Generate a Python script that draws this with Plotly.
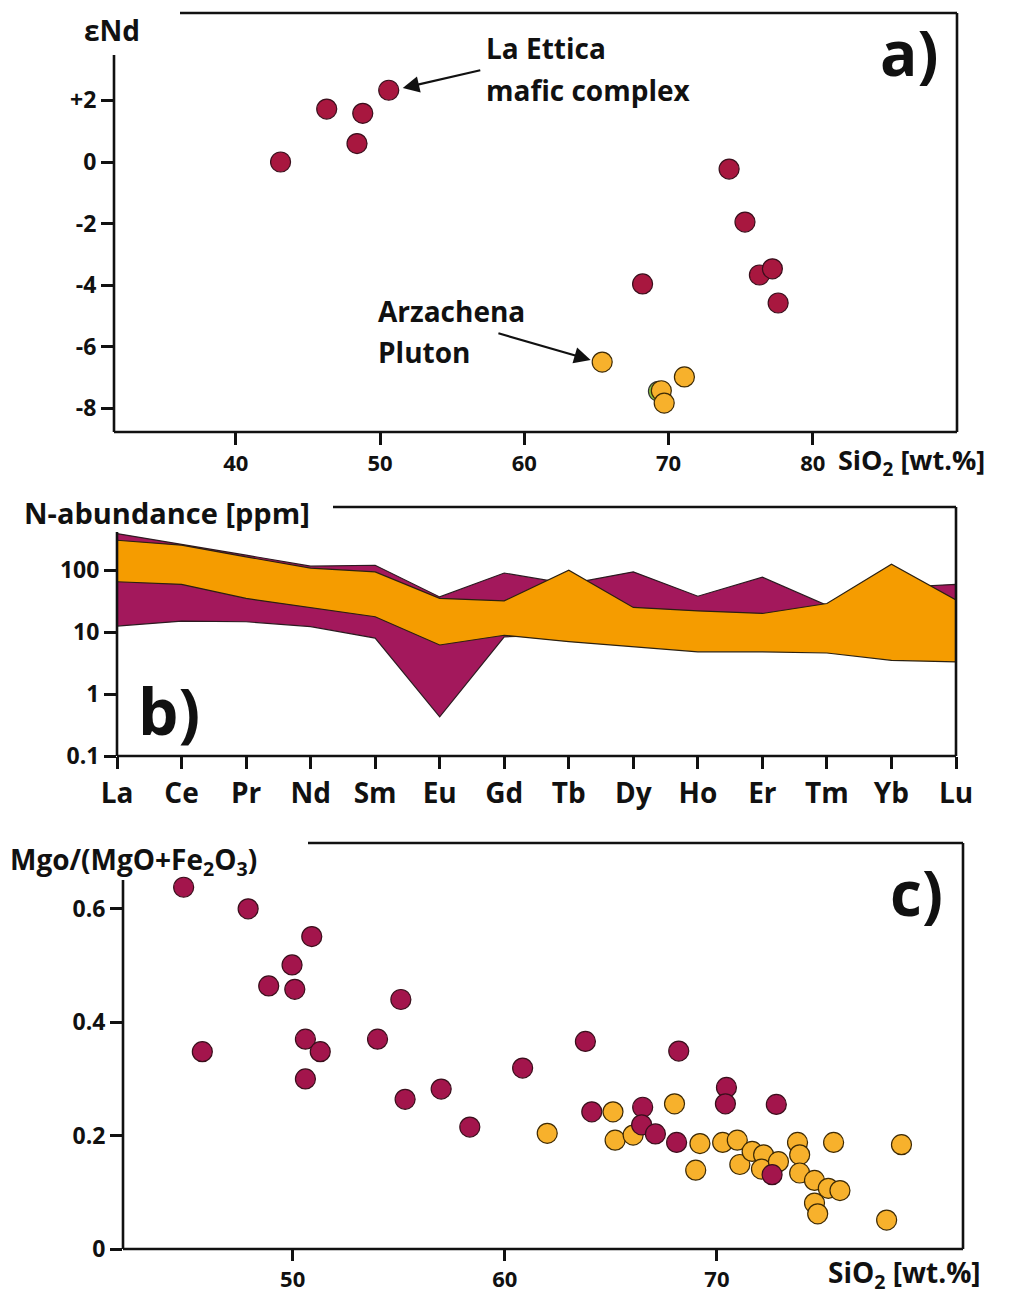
import plotly.graph_objects as go

# ---------------- data ----------------
# Panel a: eNd vs SiO2
a_mafic_sio2 = [43.1, 46.3, 48.8, 48.4, 50.6, 74.2, 75.3, 68.2, 76.3, 77.2, 77.6]
a_mafic_end = [0.0, 1.72, 1.58, 0.6, 2.33, -0.23, -1.95, -3.96, -3.67, -3.47, -4.58]
a_green_sio2 = [69.3]
a_green_end = [-7.45]
a_arz_sio2 = [65.4, 71.1, 69.5, 69.7]
a_arz_end = [-6.5, -6.98, -7.43, -7.83]

# Panel b: REE abundance envelopes (ppm)
ree = ["La", "Ce", "Pr", "Nd", "Sm", "Eu", "Gd", "Tb", "Dy", "Ho", "Er", "Tm", "Yb", "Lu"]
mafic_high = [390, 263, 175, 116, 120, 37, 90, 60, 94, 38, 77, 27, 52, 59]
mafic_low = [12.5, 15, 14.7, 12.3, 8, 0.43, 8.4, 9, 8, 7, 7, 7, 6, 6]
arz_high = [304, 253, 164, 108, 94, 35, 32, 100, 25, 22, 20, 29, 125, 33]
arz_low = [65, 59, 35, 25, 17.7, 6.2, 8.9, 7, 5.8, 4.8, 4.8, 4.6, 3.5, 3.3]

# Panel c: MgO/(MgO+Fe2O3) vs SiO2
c_mafic_sio2 = [44.86, 47.9, 50.9, 49.97, 48.87, 50.1, 45.74, 50.6, 51.3, 50.6, 55.1, 54.0,
                55.3, 57.0, 58.35, 60.84, 63.8, 68.2, 64.1, 66.5, 66.45, 67.1, 68.1, 70.45,
                70.4, 72.8, 72.6]
c_mafic_ratio = [0.638, 0.600, 0.551, 0.501, 0.464, 0.458, 0.348, 0.370, 0.348, 0.300, 0.440,
                 0.370, 0.264, 0.282, 0.215, 0.319, 0.366, 0.349, 0.242, 0.250, 0.219, 0.203,
                 0.188, 0.285, 0.256, 0.255, 0.131]
c_arz_sio2 = [62.0, 65.1, 65.2, 66.05, 68.0, 69.0, 69.2, 70.27, 70.96, 71.08, 71.66, 72.2,
              72.1, 72.9, 73.8, 73.9, 73.9, 74.6, 75.25, 75.8, 74.6, 74.75, 75.5, 78.0, 78.7]
c_arz_ratio = [0.204, 0.242, 0.192, 0.201, 0.256, 0.139, 0.186, 0.188, 0.192, 0.149, 0.172,
               0.166, 0.141, 0.154, 0.188, 0.166, 0.134, 0.121, 0.107, 0.103, 0.081, 0.062,
               0.188, 0.051, 0.184]
mafic_draw_order_last = [26]  # the purple point drawn above the orange cluster

# tick definitions
a_xticks = [40, 50, 60, 70, 80]
a_yticks = [-8, -6, -4, -2, 0, 2]
a_yticktext = ["-8", "-6", "-4", "-2", "0", "+2"]
b_yticks = [0.1, 1, 10, 100]
b_yticktext = ["0.1", "1", "10", "100"]
c_xticks = [50, 60, 70]
c_yticks = [0, 0.2, 0.4, 0.6]
c_yticktext = ["0", "0.2", "0.4", "0.6"]

# ---------------- style ----------------
W, H = 1016, 1296
FONT = "Open Sans"
BLACK = "#111111"
PURPLE_A = "#a8173f"
PURPLE_C = "#a3154c"
ORANGE_PT = "#f7b12c"
GREEN_PT = "#8cc63f"
BAND_PURPLE = "#a3185c"
BAND_ORANGE = "#f59c00"
LW = 2.6


def px(x):
    return x / W


def py(y):
    return 1 - y / H


fig = go.Figure()

# ---------------- panel a ----------------
fig.add_trace(go.Scatter(x=a_green_sio2, y=a_green_end, mode="markers",
                         marker=dict(size=20, color=GREEN_PT, line=dict(color="#333", width=1.2)),
                         xaxis="x", yaxis="y", showlegend=False))
fig.add_trace(go.Scatter(x=a_mafic_sio2, y=a_mafic_end, mode="markers",
                         marker=dict(size=20, color=PURPLE_A, line=dict(color="#3a0f1c", width=1.2)),
                         xaxis="x", yaxis="y", showlegend=False))
fig.add_trace(go.Scatter(x=a_arz_sio2, y=a_arz_end, mode="markers",
                         marker=dict(size=20, color=ORANGE_PT, line=dict(color="#3d2a05", width=1.2)),
                         xaxis="x", yaxis="y", showlegend=False))

# ---------------- panel b ----------------
n = list(range(len(ree)))
fig.add_trace(go.Scatter(x=n + n[::-1], y=mafic_high + mafic_low[::-1], mode="lines",
                         fill="toself", fillcolor=BAND_PURPLE,
                         line=dict(color="#2b1a20", width=1.2),
                         xaxis="x2", yaxis="y2", showlegend=False))
fig.add_trace(go.Scatter(x=n + n[::-1], y=arz_high + arz_low[::-1], mode="lines",
                         fill="toself", fillcolor=BAND_ORANGE,
                         line=dict(color="#2b2010", width=1.2),
                         xaxis="x2", yaxis="y2", showlegend=False))

# ---------------- panel c ----------------
first_x = [v for i, v in enumerate(c_mafic_sio2) if i not in mafic_draw_order_last]
first_y = [v for i, v in enumerate(c_mafic_ratio) if i not in mafic_draw_order_last]
last_x = [c_mafic_sio2[i] for i in mafic_draw_order_last]
last_y = [c_mafic_ratio[i] for i in mafic_draw_order_last]
fig.add_trace(go.Scatter(x=c_arz_sio2, y=c_arz_ratio, mode="markers",
                         marker=dict(size=20, color=ORANGE_PT, line=dict(color="#3d2a05", width=1.2)),
                         xaxis="x3", yaxis="y3", showlegend=False))
fig.add_trace(go.Scatter(x=first_x, y=first_y, mode="markers",
                         marker=dict(size=20, color=PURPLE_C, line=dict(color="#3a0f1c", width=1.2)),
                         xaxis="x3", yaxis="y3", showlegend=False))
fig.add_trace(go.Scatter(x=last_x, y=last_y, mode="markers",
                         marker=dict(size=20, color=PURPLE_C, line=dict(color="#3a0f1c", width=1.2)),
                         xaxis="x3", yaxis="y3", showlegend=False))

tick_common = dict(showgrid=False, zeroline=False, showline=False, ticks="outside",
                   tickwidth=LW, tickcolor=BLACK, automargin=False)

fig.update_layout(
    width=W, height=H, margin=dict(l=0, r=0, t=0, b=0),
    paper_bgcolor="white", plot_bgcolor="white",
    font=dict(family=FONT, color=BLACK),
    xaxis=dict(domain=[px(114), px(957)], range=[31.55, 90], anchor="y", ticklen=12,
               tickvals=a_xticks, tickfont=dict(size=22, family=FONT, weight="bold"), **tick_common),
    yaxis=dict(domain=[py(432), py(13)], range=[-8.77, 4.84], anchor="x", ticklen=12,
               tickvals=a_yticks, ticktext=a_yticktext,
               tickfont=dict(size=23, family=FONT, weight="bold"), **tick_common),
    xaxis2=dict(domain=[px(117), px(956)], range=[0, 13], anchor="y2", ticklen=12,
                tickvals=n, ticktext=ree,
                tickfont=dict(size=28, family=FONT, weight="bold"), **tick_common),
    yaxis2=dict(domain=[py(756), py(507)], type="log", range=[-1, 3.02], anchor="x2", ticklen=12,
                tickvals=b_yticks, ticktext=b_yticktext,
                tickfont=dict(size=23, family=FONT, weight="bold"), **tick_common),
    xaxis3=dict(domain=[px(123), px(963)], range=[42, 81.6], anchor="y3", ticklen=11,
                tickvals=c_xticks, tickfont=dict(size=22, family=FONT, weight="bold"), **tick_common),
    yaxis3=dict(domain=[py(1249), py(843)], range=[0, 0.716], anchor="x3", ticklen=12,
                tickvals=c_yticks, ticktext=c_yticktext,
                tickfont=dict(size=23, family=FONT, weight="bold"), **tick_common),
)

# ---------------- frames (open at top-left) ----------------
def frame(xr, yr, left_top, top_start):
    line = dict(color=BLACK, width=LW)
    xd, yd = xr + " domain", yr + " domain"
    return [
        dict(type="line", xref=xd, yref=yd, x0=0, x1=0, y0=0, y1=left_top, line=line),
        dict(type="line", xref=xd, yref=yd, x0=0, x1=1, y0=0, y1=0, line=line),
        dict(type="line", xref=xd, yref=yd, x0=1, x1=1, y0=0, y1=1, line=line),
        dict(type="line", xref=xd, yref=yd, x0=top_start, x1=1, y0=1, y1=1, line=line),
    ]

shapes = []
shapes += frame("x", "y", (432 - 55) / (432 - 13), (180 - 114) / (957 - 114))
shapes += frame("x2", "y2", (756 - 532) / (756 - 507), (333 - 117) / (956 - 117))
shapes += frame("x3", "y3", (1249 - 880) / (1249 - 843), (308 - 123) / (963 - 123))
fig.update_layout(shapes=shapes)

# ---------------- annotations ----------------
def txt(text, x, y, size, anchor="left"):
    return dict(text=text, xref="paper", yref="paper", x=px(x), y=py(y),
                xanchor=anchor, yanchor="middle", showarrow=False,
                font=dict(family=FONT, size=size, color=BLACK, weight="bold"))

ann = [
    txt("εNd", 82, 30, 28),
    txt("La Ettica", 484, 48, 28),
    txt("mafic complex", 484, 90, 28),
    txt("Arzachena", 376, 311, 28),
    txt("Pluton", 376, 352, 28),
    txt("a)", 878, 52, 62),
    txt("SiO<sub>2</sub> [wt.%]", 836, 462, 27),
    txt("N-abundance [ppm]", 22, 513, 29),
    txt("b)", 136, 710, 64),
    txt("Mgo/(MgO+Fe<sub>2</sub>O<sub>3</sub>)", 8, 861, 28),
    txt("c)", 888, 892, 62),
    txt("SiO<sub>2</sub> [wt.%]", 826, 1274, 28),
    # arrows
    dict(x=51.57, y=2.4, ax=57.05, ay=2.99, xref="x", yref="y", axref="x", ayref="y",
         text="", showarrow=True, arrowhead=2, arrowsize=1.5, arrowwidth=2.2, arrowcolor=BLACK),
    dict(x=64.6, y=-6.43, ax=58.1, ay=-5.55, xref="x", yref="y", axref="x", ayref="y",
         text="", showarrow=True, arrowhead=2, arrowsize=1.5, arrowwidth=2.2, arrowcolor=BLACK),
]
fig.update_layout(annotations=ann)

fig.write_html("out.html")
